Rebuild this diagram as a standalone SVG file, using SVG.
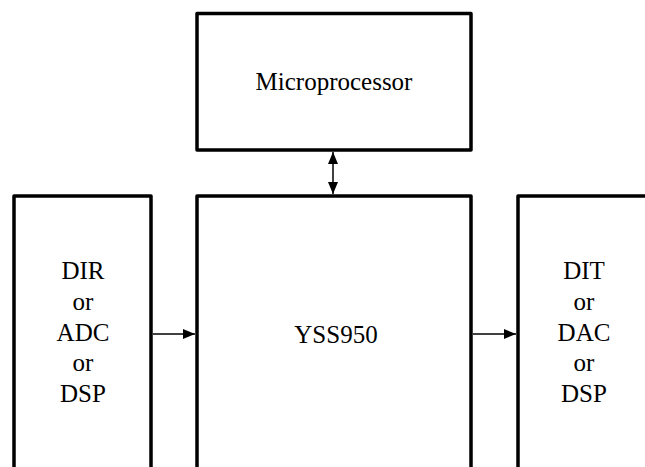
<svg xmlns="http://www.w3.org/2000/svg" width="645" height="467" viewBox="0 0 645 467">
<defs>
<marker id="ah" viewBox="0 0 12 10" refX="12" refY="5" markerWidth="12" markerHeight="10" markerUnits="userSpaceOnUse" orient="auto-start-reverse">
<path d="M0,0 L12,5 L0,10 Z" fill="#000"/>
</marker>
</defs>
<style>
.box{fill:#fff;stroke:#000;stroke-width:3.5;stroke-linejoin:round}
.t{font-size:25px;fill:#000;text-anchor:middle}
.c{stroke:#000;stroke-width:1.5;fill:none}
</style>
<rect width="645" height="467" fill="#fff"/>
<g id="microprocessor" font-family="Liberation Serif, Times New Roman, serif">
<rect class="box" x="197" y="13.5" width="274" height="136.5"/>
<text class="t" x="334" y="90">Microprocessor</text>
</g>
<g id="input" font-family="Liberation Serif, Times New Roman, serif">
<path class="box" d="M14,480 V196 H151 V480"/>
<text class="t" x="83" y="279">DIR</text>
<text class="t" x="83" y="310">or</text>
<text class="t" x="83" y="341">ADC</text>
<text class="t" x="83" y="371">or</text>
<text class="t" x="83" y="402">DSP</text>
</g>
<g id="yss950" font-family="Liberation Serif, Times New Roman, serif">
<path class="box" d="M197,480 V196 H471 V480"/>
<text class="t" x="336" y="343">YSS950</text>
</g>
<g id="output" font-family="Liberation Serif, Times New Roman, serif">
<path class="box" d="M518,480 V196 H660"/>
<text class="t" x="584" y="279">DIT</text>
<text class="t" x="584" y="310">or</text>
<text class="t" x="584" y="341">DAC</text>
<text class="t" x="584" y="371">or</text>
<text class="t" x="584" y="402">DSP</text>
</g>
<g id="connectors">
<line class="c" x1="333" y1="152" x2="333" y2="194" stroke="#555" marker-start="url(#ah)" marker-end="url(#ah)"/>
<line class="c" x1="153" y1="334" x2="195" y2="334" marker-end="url(#ah)"/>
<line class="c" x1="473" y1="334" x2="516" y2="334" marker-end="url(#ah)"/>
</g>
</svg>
